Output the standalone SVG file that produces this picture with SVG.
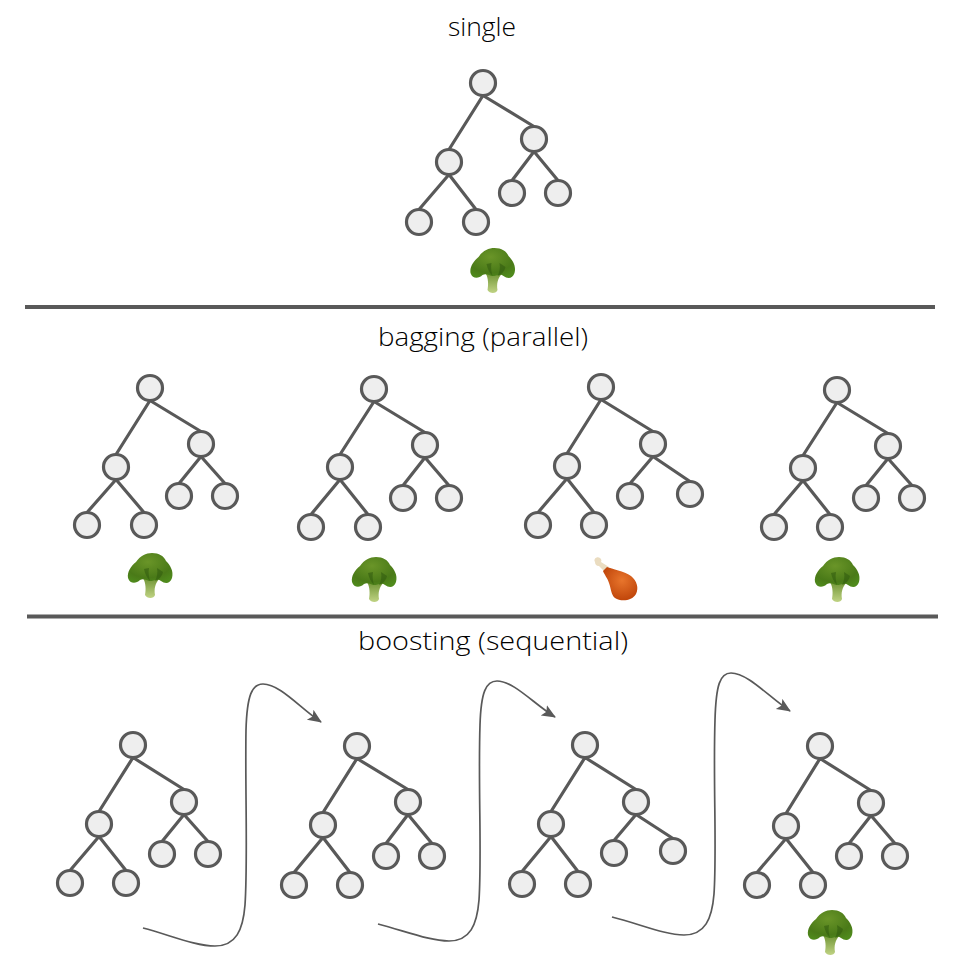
<svg xmlns="http://www.w3.org/2000/svg" width="960" height="960" viewBox="0 0 960 960">
<style>
.t{font-family:"Open Sans","Liberation Sans",sans-serif;font-size:25px;font-weight:300;fill:#000}
.e{stroke:#595959;stroke-width:3.2;fill:none;stroke-linecap:round}
.n{fill:#eeeeee;stroke:#595959;stroke-width:3.2}
.d{stroke:#595959;stroke-width:4;fill:none}
.a{stroke:#595959;stroke-width:1.7;fill:none}
</style>
<defs>
<marker id="arrow" markerUnits="userSpaceOnUse" markerWidth="16" markerHeight="14" refX="13" refY="6" orient="auto"><path d="M0 0L14 6L0 12L3 6Z" fill="#595959"/></marker>
<linearGradient id="stem" x1="0" y1="0" x2="0" y2="1"><stop offset="0" stop-color="#6f9434"/><stop offset="1" stop-color="#c0d384"/></linearGradient>
<radialGradient id="head" cx="0.45" cy="0.3" r="0.75"><stop offset="0" stop-color="#6a9528"/><stop offset="0.7" stop-color="#4a7a18"/><stop offset="1" stop-color="#4f8a1c"/></radialGradient>
<radialGradient id="meat" cx="0.55" cy="0.4" r="0.65"><stop offset="0" stop-color="#e8752c"/><stop offset="1" stop-color="#bd4208"/></radialGradient>
<g id="broccoli">
<path d="M-7 3C-4 8-4 15-5 20C-3 24 4 24 5 20C4 14 5 8 10 3Z" fill="url(#stem)"/>
<path d="M-22 3C-23-3-19-9-14-13C-10-19-4-22 2-22C9-22 14-19 16-14C20-10 24-4 22 3C20 9 15 9 11 6C8 3 3 6 0 6C-3 6-6 3-10 5C-14 9-20 9-22 3Z" fill="url(#head)"/>
<path d="M-6-6C-5-1-3 3 0 6C-1 2-2-2-1-7ZM7-7C8-2 7 2 5 6C9 5 12 1 13-3Z" fill="#2f5a0e" opacity="0.55"/>
</g>
<g id="drumstick">
<path d="M-21-17C-23-20-19-23-16-21C-15-20-14-19-15-17L-7-12L-11-7L-17-13C-20-13-21-15-21-17Z" fill="#eadcc0"/>
<path d="M-9-12C-4-10 8-8 15-3C21 2 23 9 20 15C16 22 5 23-1 19C-5 16-5 9-7 4C-8 0-12-5-13-8Z" fill="url(#meat)"/>
</g>
</defs>
<rect width="960" height="960" fill="#fff"/>
<g id="labels">
<text class="t" x="448" y="36" textLength="68" lengthAdjust="spacingAndGlyphs">single</text>
<text class="t" x="378" y="346" textLength="210" lengthAdjust="spacingAndGlyphs">bagging (parallel)</text>
<text class="t" x="358" y="650" textLength="270" lengthAdjust="spacingAndGlyphs">boosting (sequential)</text>
</g>
<g id="connectors">
<path class="d" d="M25 307H935"/>
<path class="d" d="M27 616.500H938"/>
<path class="e" d="M483 95.500L449 149.500M483 95.500L534 126.500M449 174.500L419 209.500M449 174.500L476 209.500M534 151.500L512 180.500M534 151.500L558 180.500"/>
<path class="e" d="M150 400.500L116 454.500M150 400.500L201 431.500M116 479.500L87 512.500M116 479.500L144 512.500M201 456.500L179 483.500M201 456.500L225 483.500"/>
<path class="e" d="M374 401.500L340 454.500M374 401.500L425 432.500M340 479.500L311 514.500M340 479.500L368 514.500M425 457.500L403 485.500M425 457.500L449 485.500"/>
<path class="e" d="M601 399.500L567 453.500M601 399.500L653 431.500M567 478.500L538 512.500M567 478.500L594 512.500M653 456.500L630 483.500M653 456.500L690 481.500"/>
<path class="e" d="M837 402.500L803 455.500M837 402.500L888 433.500M803 480.500L774 514.500M803 480.500L830 514.500M888 458.500L866 485.500M888 458.500L912 485.500"/>
<path class="e" d="M133 757.500L99 811.500M133 757.500L184 789.500M99 836.500L70 870.500M99 836.500L126 870.500M184 814.500L162 841.500M184 814.500L208 841.500"/>
<path class="e" d="M357 758.500L323 812.500M357 758.500L408 789.500M323 837.500L294 872.500M323 837.500L350 872.500M408 814.500L386 843.500M408 814.500L432 843.500"/>
<path class="e" d="M585 757.500L551 811.500M585 757.500L636 789.500M551 836.500L522 871.500M551 836.500L578 871.500M636 814.500L614 840.500M636 814.500L673 838.500"/>
<path class="e" d="M820 758.500L786 813.500M820 758.500L871 790.500M786 838.500L757 872.500M786 838.500L813 872.500M871 815.500L849 843.500M871 815.500L895 843.500"/>
<path class="a" marker-end="url(#arrow)" d="M143 928C170 935 195 946 215 946C236 946 243 930 245 905C248 860 245 790 246 730C247 695 252 684 263 684C280 684 300 708 321 722"/>
<path class="a" marker-end="url(#arrow)" d="M378 924C405 931 430 941 449 941C470 941 477 925 479 900C482 855 478 785 480 725C481 692 486 681 497 681C514 681 535 705 555 717"/>
<path class="a" marker-end="url(#arrow)" d="M612 917C640 924 665 935 684 935C705 935 712 919 714 894C717 850 713 780 715 720C716 685 720 673 731 673C748 673 770 698 790 711"/>
</g>
<g id="single"><g class="n"><circle cx="483" cy="83" r="12.500"/><circle cx="534" cy="139" r="12.500"/><circle cx="449" cy="162" r="12.500"/><circle cx="419" cy="222" r="12.500"/><circle cx="476" cy="222" r="12.500"/><circle cx="512" cy="193" r="12.500"/><circle cx="558" cy="193" r="12.500"/></g><use href="#broccoli" x="492.500" y="270"/></g>
<g id="bag1"><g class="n"><circle cx="150" cy="388" r="12.500"/><circle cx="201" cy="444" r="12.500"/><circle cx="116" cy="467" r="12.500"/><circle cx="87" cy="525" r="12.500"/><circle cx="144" cy="525" r="12.500"/><circle cx="179" cy="496" r="12.500"/><circle cx="225" cy="496" r="12.500"/></g><use href="#broccoli" x="150" y="575"/></g>
<g id="bag2"><g class="n"><circle cx="374" cy="389" r="12.500"/><circle cx="425" cy="445" r="12.500"/><circle cx="340" cy="467" r="12.500"/><circle cx="311" cy="527" r="12.500"/><circle cx="368" cy="527" r="12.500"/><circle cx="403" cy="498" r="12.500"/><circle cx="449" cy="498" r="12.500"/></g><use href="#broccoli" x="374" y="579"/></g>
<g id="bag3"><g class="n"><circle cx="601" cy="387" r="12.500"/><circle cx="653" cy="444" r="12.500"/><circle cx="567" cy="466" r="12.500"/><circle cx="538" cy="525" r="12.500"/><circle cx="594" cy="525" r="12.500"/><circle cx="630" cy="496" r="12.500"/><circle cx="690" cy="494" r="12.500"/></g><use href="#drumstick" x="616" y="579"/></g>
<g id="bag4"><g class="n"><circle cx="837" cy="390" r="12.500"/><circle cx="888" cy="446" r="12.500"/><circle cx="803" cy="468" r="12.500"/><circle cx="774" cy="527" r="12.500"/><circle cx="830" cy="527" r="12.500"/><circle cx="866" cy="498" r="12.500"/><circle cx="912" cy="498" r="12.500"/></g><use href="#broccoli" x="837" y="579"/></g>
<g id="boost1" class="n"><circle cx="133" cy="745" r="12.500"/><circle cx="184" cy="802" r="12.500"/><circle cx="99" cy="824" r="12.500"/><circle cx="70" cy="883" r="12.500"/><circle cx="126" cy="883" r="12.500"/><circle cx="162" cy="854" r="12.500"/><circle cx="208" cy="854" r="12.500"/></g>
<g id="boost2" class="n"><circle cx="357" cy="746" r="12.500"/><circle cx="408" cy="802" r="12.500"/><circle cx="323" cy="825" r="12.500"/><circle cx="294" cy="885" r="12.500"/><circle cx="350" cy="885" r="12.500"/><circle cx="386" cy="856" r="12.500"/><circle cx="432" cy="856" r="12.500"/></g>
<g id="boost3" class="n"><circle cx="585" cy="745" r="12.500"/><circle cx="636" cy="802" r="12.500"/><circle cx="551" cy="824" r="12.500"/><circle cx="522" cy="884" r="12.500"/><circle cx="578" cy="884" r="12.500"/><circle cx="614" cy="853" r="12.500"/><circle cx="673" cy="851" r="12.500"/></g>
<g id="boost4"><g class="n"><circle cx="820" cy="746" r="12.500"/><circle cx="871" cy="803" r="12.500"/><circle cx="786" cy="826" r="12.500"/><circle cx="757" cy="885" r="12.500"/><circle cx="813" cy="885" r="12.500"/><circle cx="849" cy="856" r="12.500"/><circle cx="895" cy="856" r="12.500"/></g><use href="#broccoli" x="830" y="932"/></g>
</svg>
